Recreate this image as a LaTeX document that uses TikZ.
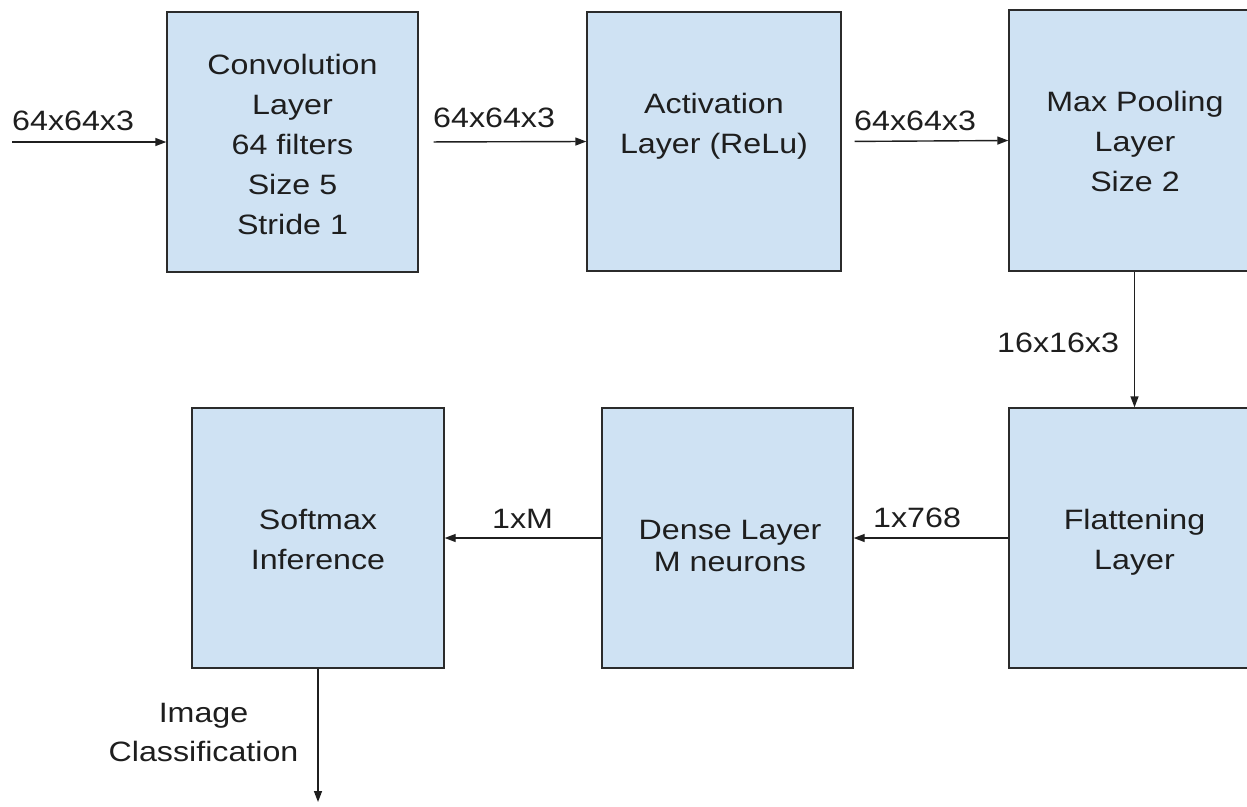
\documentclass[tikz,border=0pt]{standalone}
\usepackage{fontspec}
\setmainfont{Liberation Sans}[FakeStretch=1.15]
\usetikzlibrary{arrows.meta}
\definecolor{boxfill}{HTML}{CFE2F3}
\definecolor{boxline}{HTML}{2B2B2B}
\definecolor{txtcol}{HTML}{1E1E1E}
\tikzset{
  layerbox/.style={draw=boxline, fill=boxfill, line width=1.4pt, rectangle, inner sep=0pt},
  boxtext/.style={align=center, inner sep=0pt, text=txtcol, font=\fontsize{28}{40}\selectfont},
  edgetext/.style={inner sep=0pt, text=txtcol, font=\fontsize{28}{39}\selectfont},
  flow/.style={draw=black!88, line width=1.4pt, -{Triangle[length=11pt,width=8pt]}}
}
\begin{document}
\begin{tikzpicture}[x=1pt,y=-1pt]
\useasboundingbox (0,0) rectangle (1247,806);
\fill[white] (0,0) rectangle (1247,806);
\clip (0,0) rectangle (1247,806);

% boxes
\node[layerbox, minimum width=251pt, minimum height=260pt] (conv) at (292.5,142) {};
\node[layerbox, minimum width=254pt, minimum height=259pt] (act) at (714,141.5) {};
\node[layerbox, minimum width=251pt, minimum height=261pt] (pool) at (1134.5,140.5) {};
\node[layerbox, minimum width=251pt, minimum height=260pt] (flat) at (1134.5,538) {};
\node[layerbox, minimum width=251pt, minimum height=260pt] (dense) at (727.5,538) {};
\node[layerbox, minimum width=252pt, minimum height=260pt] (soft) at (318,538) {};

% box texts
\node[boxtext] (convT) at (292.5,144.8) {Convolution\\Layer\\64 filters\\Size 5\\Stride 1};
\node[boxtext] (actT) at (714,125.8) {Activation\\Layer (ReLu)};
\node[boxtext] (poolT) at (1135,141.8) {Max Pooling\\Layer\\Size 2};
\node[boxtext] (flatT) at (1134.5,542.7) {Flattening\\Layer};
\node[boxtext, font=\fontsize{28}{32}\selectfont] (denseT) at (730,545.8) {Dense Layer\\M neurons};
\node[boxtext] (softT) at (318,539.8) {Softmax\\Inference};

% connectors
\coordinate (in) at (12,142);
\coordinate (out) at (318,802);
\draw[flow] (in) -- (conv.west);
\draw[flow, shorten <=15pt] (conv.east) -- (act.west);
\draw[flow, shorten <=13pt] (act.east) -- (pool.west);
\draw[flow] (pool.south) -- (flat.north);
\draw[flow] (flat.west) -- (dense.east);
\draw[flow] (dense.west) -- (soft.east);
\draw[flow] (soft.south) -- (out);

% edge labels
\node[edgetext, anchor=base west] (l1) at (12,130) {64x64x3};
\node[edgetext, anchor=base west] (l2) at (433,127) {64x64x3};
\node[edgetext, anchor=base west] (l3) at (854,130) {64x64x3};
\node[edgetext, anchor=base west] (l4) at (997,352) {16x16x3};
\node[edgetext, anchor=base west] (l5) at (873,527) {1x768};
\node[edgetext, anchor=base west] (l6) at (492,528) {1xM};
\node[edgetext, align=center] (l7) at (203.5,732.3) {Image\\Classification};
\end{tikzpicture}
\end{document}
